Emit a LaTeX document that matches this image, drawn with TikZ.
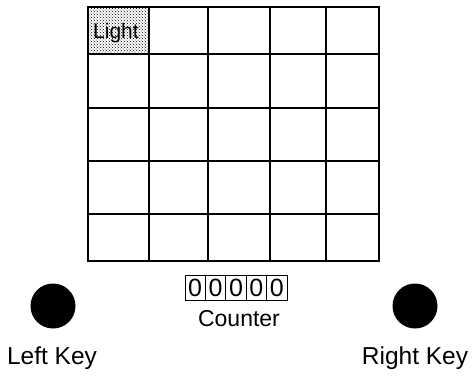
\documentclass[tikz,border=0pt]{standalone}
\usepackage{fontspec}
\setmainfont{Liberation Sans}
\usetikzlibrary{patterns}

\begin{document}
\begin{tikzpicture}[x={(1pt,0pt)}, y={(0pt,-1pt)}, line width=1.2pt,
  label/.style={font=\fontsize{24.5}{26}\selectfont, inner sep=0pt},
  digit/.style={draw, line width=1pt, minimum width=20.4pt, minimum height=25pt, inner sep=0pt, font=\fontsize{25}{26}\selectfont},
  keydot/.style={circle, fill=black, minimum size=45pt, inner sep=0pt}]
  \useasboundingbox (0,0) rectangle (472,376);

  % Light cell
  \fill[pattern=crosshatch dots, pattern color=black] (88,7) rectangle (149,54);
  \node[font=\fontsize{21}{24}\selectfont, inner sep=0pt] (Light) at (116,33) {Light};

  % Grid
  \draw (88,7) rectangle (379,261);
  \draw (149,7) -- (149,261);
  \draw (208,7) -- (208,261);
  \draw (270,7) -- (270,261);
  \draw (326,7) -- (326,261);
  \draw (88,54) -- (379,54);
  \draw (88,108) -- (379,108);
  \draw (88,161) -- (379,161);
  \draw (88,214) -- (379,214);

  % Counter
  \node[digit] (D1) at (195.2,288) {0};
  \node[digit] (D2) at (215.6,288) {0};
  \node[digit] (D3) at (236,288) {0};
  \node[digit] (D4) at (256.4,288) {0};
  \node[digit] (D5) at (276.8,288) {0};
  \node[font=\fontsize{23}{24}\selectfont, inner sep=0pt] (Counter) at (239,319) {Counter};

  % Keys
  \node[keydot] (LeftKey) at (53,306) {};
  \node[keydot] (RightKey) at (415,306) {};
  \node[label] (LeftLabel) at (52,358) {Left Key};
  \node[label] (RightLabel) at (415,358) {Right Key};
\end{tikzpicture}
\end{document}
